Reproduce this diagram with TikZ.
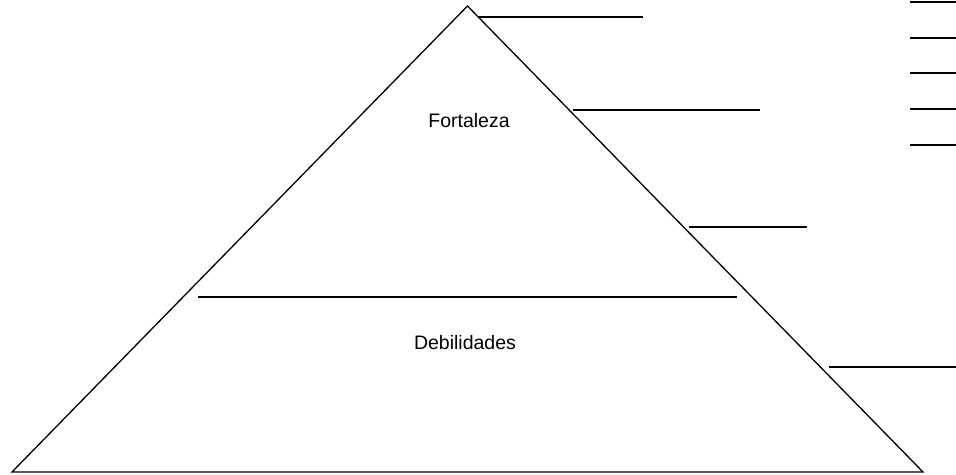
\documentclass[tikz,border=0pt]{standalone}
\usepackage{fontspec}
\setmainfont{Liberation Sans}
\begin{document}
\begin{tikzpicture}[x=1pt,y=-1pt,
  ln/.style={line width=1.3pt,black},
  lbl/.style={font=\fontsize{19.5}{23}\selectfont,inner sep=0pt}]
\useasboundingbox (0,0) rectangle (956,474);
% triangle
\coordinate (apex) at (467.5,6);
\coordinate (bl) at (12,472);
\coordinate (br) at (923,472);
\draw[ln,line join=miter] (bl) -- (apex) -- (br) -- cycle;
% dividing line
\coordinate (m1) at (198,297);
\coordinate (m2) at (737,297);
\draw[ln] (m1) -- (m2);
% right-side lines
\coordinate (r1a) at (478,17);  \coordinate (r1b) at (643,17);
\coordinate (r2a) at (573,110); \coordinate (r2b) at (760,110);
\coordinate (r3a) at (689,227); \coordinate (r3b) at (807,227);
\coordinate (r4a) at (829,367); \coordinate (r4b) at (956,367);
\draw[ln] (r1a) -- (r1b);
\draw[ln] (r2a) -- (r2b);
\draw[ln] (r3a) -- (r3b);
\draw[ln] (r4a) -- (r4b);
% short lines top right
\foreach \y [count=\i] in {2,38,73,109,145}{
  \coordinate (s\i a) at (910,\y);
  \coordinate (s\i b) at (956,\y);
  \draw[ln] (s\i a) -- (s\i b);
}
% labels
\node[lbl] (fort) at (469,120.5) {Fortaleza};
\node[lbl] (deb) at (465,343) {Debilidades};
\end{tikzpicture}
\end{document}
